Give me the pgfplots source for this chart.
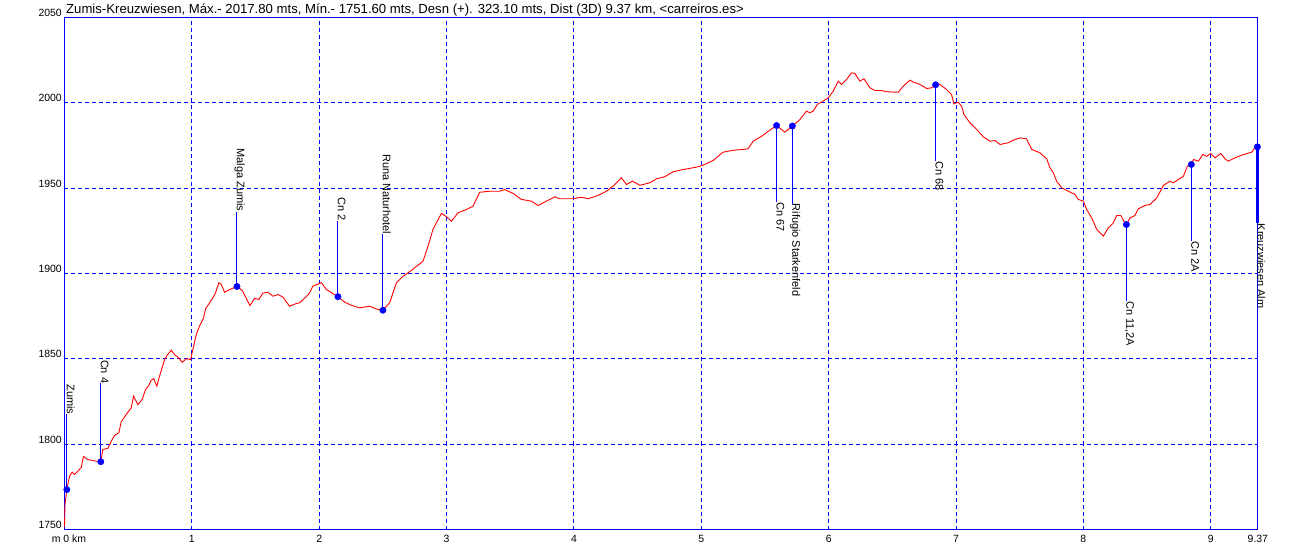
\documentclass[border=0pt]{standalone}
\usepackage{fontspec}
\setmainfont{Liberation Sans}
\usepackage{pgfplots}
\pgfplotsset{compat=1.18}

% elevation profile, distance in km, height in m
\pgfplotstableread{
x y
0.000 1751.6
0.004 1764.6
0.018 1773.4
0.039 1781.1
0.060 1783.6
0.079 1782.2
0.131 1786.3
0.149 1792.8
0.183 1791.0
0.249 1790.0
0.285 1789.7
0.301 1796.9
0.340 1797.5
0.367 1801.7
0.393 1805.1
0.427 1806.7
0.445 1813.1
0.485 1817.4
0.524 1821.3
0.542 1828.1
0.576 1823.2
0.610 1826.2
0.636 1832.0
0.662 1834.4
0.681 1837.5
0.701 1838.3
0.725 1834.0
0.746 1839.8
0.786 1849.6
0.811 1852.5
0.838 1855.1
0.864 1852.5
0.890 1851.0
0.925 1848.0
0.956 1850.0
0.990 1849.6
1.008 1855.5
1.035 1864.3
1.060 1869.1
1.092 1874.0
1.108 1879.3
1.139 1882.8
1.165 1885.8
1.186 1888.7
1.212 1894.6
1.231 1893.6
1.257 1889.0
1.296 1890.6
1.354 1892.4
1.396 1890.0
1.427 1885.4
1.456 1881.3
1.493 1885.4
1.526 1884.8
1.558 1888.5
1.597 1889.0
1.636 1886.7
1.676 1887.7
1.715 1886.2
1.767 1880.8
1.820 1882.4
1.846 1882.8
1.899 1886.5
1.925 1888.7
1.950 1892.6
2.017 1894.6
2.056 1890.6
2.147 1886.4
2.200 1883.2
2.252 1881.4
2.317 1879.9
2.396 1880.8
2.461 1878.9
2.500 1878.5
2.553 1882.8
2.606 1894.6
2.658 1898.4
2.723 1901.8
2.815 1907.2
2.854 1916.0
2.893 1925.8
2.959 1935.2
2.993 1933.6
3.038 1930.6
3.090 1935.6
3.156 1937.5
3.207 1939.4
3.260 1947.6
3.339 1948.2
3.417 1948.2
3.456 1949.2
3.522 1946.9
3.588 1943.4
3.666 1942.4
3.718 1939.9
3.784 1942.4
3.849 1944.9
3.888 1943.8
3.993 1943.8
4.059 1944.7
4.111 1943.8
4.189 1945.7
4.255 1948.2
4.307 1951.2
4.373 1956.1
4.412 1952.1
4.460 1954.1
4.517 1951.7
4.595 1953.1
4.648 1955.5
4.713 1956.7
4.778 1959.6
4.857 1960.9
4.962 1962.3
5.014 1963.5
5.093 1966.2
5.171 1971.1
5.250 1972.2
5.328 1972.7
5.368 1973.1
5.407 1977.5
5.473 1980.4
5.538 1984.0
5.591 1986.7
5.656 1982.8
5.715 1986.4
5.774 1990.2
5.826 1995.1
5.852 1994.2
5.878 1995.1
5.910 1999.0
5.957 2001.0
5.996 2002.9
6.035 2006.8
6.075 2012.7
6.101 2010.8
6.141 2013.7
6.180 2017.6
6.206 2017.2
6.245 2012.7
6.277 2014.1
6.324 2008.8
6.363 2007.2
6.416 2007.2
6.455 2006.5
6.546 2006.2
6.585 2009.7
6.638 2013.3
6.664 2012.1
6.716 2010.8
6.769 2008.4
6.808 2008.8
6.840 2010.6
6.873 2010.8
6.926 2007.8
6.965 2004.9
6.983 1999.4
7.017 2000.4
7.044 1998.0
7.062 1993.2
7.109 1988.3
7.162 1984.4
7.214 1980.1
7.266 1977.5
7.306 1977.9
7.345 1975.6
7.410 1976.6
7.449 1978.1
7.502 1979.5
7.554 1978.9
7.594 1972.7
7.659 1970.7
7.712 1967.2
7.738 1961.9
7.764 1959.0
7.790 1954.1
7.830 1950.2
7.882 1948.2
7.934 1946.3
7.960 1943.4
8.000 1942.4
8.026 1937.5
8.065 1932.6
8.105 1925.8
8.157 1921.9
8.196 1926.8
8.231 1929.3
8.262 1934.0
8.294 1934.0
8.314 1931.2
8.338 1928.7
8.366 1932.6
8.405 1934.0
8.431 1937.9
8.484 1939.9
8.523 1940.4
8.576 1944.3
8.628 1951.6
8.680 1954.1
8.706 1953.1
8.746 1955.1
8.785 1957.0
8.817 1962.9
8.848 1963.9
8.864 1966.8
8.903 1965.8
8.937 1969.7
8.969 1968.7
9.000 1970.3
9.034 1967.8
9.079 1970.3
9.112 1967.2
9.138 1965.8
9.191 1967.8
9.256 1969.7
9.322 1971.1
9.340 1973.1
9.366 1974.2
}\profile

\begin{document}
\begin{tikzpicture}
\begin{axis}[
    scale only axis,
    width=1193.3bp, height=512bp,
    xmin=0, xmax=9.37, ymin=1750, ymax=2050,
    clip=false,
    axis line style={blue, line width=1.2bp},
    major tick length=0pt,
    grid=major,
    major grid style={blue, line width=0.9bp, dash pattern=on 4bp off 3bp},
    xtick={0,1,2,3,4,5,6,7,8,9,9.37},
    xticklabels={\hspace*{9bp}m 0 km,1,2,3,4,5,6,7,8,9,9.37},
    ytick={1750,1800,1850,1900,1950,2000,2050},
    yticklabels={1750,1800,1850,1900,1950,2000,2050},
    ticklabel style={font=\fontsize{10.5}{12}\selectfont, text=black},
    xticklabel style={anchor=north, inner sep=0pt, yshift=-5.5bp},
    yticklabel style={anchor=base east, inner sep=0pt, xshift=-2.5bp, yshift=1bp},
]
\addplot[red, line width=0.9bp] table[x=x, y=y] {\profile};

% waypoint stems
\addplot[blue, line width=1bp] coordinates {(0.018,1773.4) (0.018,1817.4)};
\addplot[blue, line width=1bp] coordinates {(0.285,1789.7) (0.285,1835.6)};
\addplot[blue, line width=1bp] coordinates {(1.354,1892.4) (1.354,1936.3)};
\addplot[blue, line width=1bp] coordinates {(2.147,1886.4) (2.147,1930.6)};
\addplot[blue, line width=1bp] coordinates {(2.500,1878.5) (2.500,1922.9)};
\addplot[blue, line width=1bp] coordinates {(5.591,1986.7) (5.591,1941.8)};
\addplot[blue, line width=1bp] coordinates {(5.715,1986.4) (5.715,1941.0)};
\addplot[blue, line width=1bp] coordinates {(6.840,2010.6) (6.840,1965.8)};
\addplot[blue, line width=1bp] coordinates {(8.338,1928.7) (8.338,1883.8)};
\addplot[blue, line width=1bp] coordinates {(8.848,1963.9) (8.848,1918.9)};
\addplot[blue, line width=2.5bp] coordinates {(9.366,1974.2) (9.366,1929.3)};

% waypoints
\addplot[only marks, mark=*, mark size=3.2bp, blue] coordinates {
    (0.018,1773.4) (0.285,1789.7) (1.354,1892.4) (2.147,1886.4)
    (2.500,1878.5) (5.591,1986.7) (5.715,1986.4) (6.840,2010.6)
    (8.338,1928.7) (8.848,1963.9) (9.366,1974.2)};

\node[anchor=base west, inner sep=0pt, font=\fontsize{13.2}{15}\selectfont,
    xshift=1.5bp, yshift=3.8bp] at (rel axis cs:0,1)
    {Zumis-Kreuzwiesen, Máx.- 2017.80 mts, Mín.- 1751.60 mts, Desn (+). 323.10 mts, Dist (3D) 9.37 km, <carreiros.es>};

\begin{scope}[every node/.style={rotate=-90, inner sep=0pt,
        font=\fontsize{11}{13}\selectfont}]
\node[anchor=base east] at (axis cs:0.018,1817.4) {Zumis};
\node[anchor=base east] at (axis cs:0.285,1835.6) {Cn 4};
\node[anchor=base east] at (axis cs:1.354,1936.3) {Malga Zumis};
\node[anchor=base east] at (axis cs:2.147,1930.6) {Cn 2};
\node[anchor=base east] at (axis cs:2.500,1922.9) {Runa Naturhotel};
\node[anchor=base west] at (axis cs:5.591,1941.8) {Cn 67};
\node[anchor=base west] at (axis cs:5.715,1941.0) {Rifugio Starkenfeld};
\node[anchor=base west] at (axis cs:6.840,1965.8) {Cn 68};
\node[anchor=base west] at (axis cs:8.338,1883.8) {Cn 11,2A};
\node[anchor=base west] at (axis cs:8.848,1918.9) {Cn 2A};
\node[anchor=base west] at (axis cs:9.366,1929.3) {Kreuzwiesen Alm};
\end{scope}
\end{axis}
\pgfresetboundingbox
\path (-64.5bp,-28.5bp) rectangle (1225.5bp,529.5bp);
\end{tikzpicture}
\end{document}
